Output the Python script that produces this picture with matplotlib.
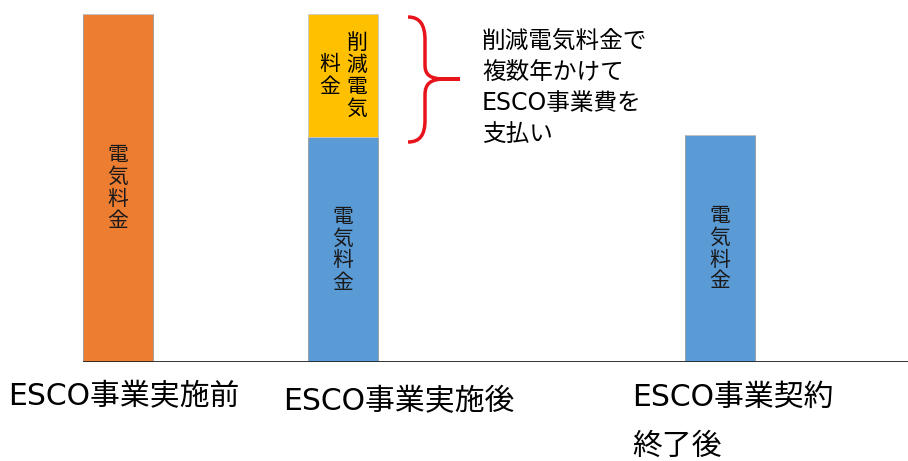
import numpy as np
import matplotlib
matplotlib.use("Agg")
import matplotlib.pyplot as plt
from matplotlib.path import Path
from matplotlib.patches import PathPatch

plt.rcParams['font.family'] = ['Noto Sans CJK JP', 'DejaVu Sans']
MIXED = ['DejaVu Sans', 'Noto Sans CJK JP']

# data (heights, in pixel-ish units)
categories = ['ESCO事業実施前', 'ESCO事業実施後', 'ESCO事業契約\n終了後']
elec_fee = [348, 225, 227]
reduced_fee = [0, 123, 0]
bar_labels = ['電気料金', '電気料金', '電気料金']
reduced_label = ['削減電気', '料金']
note = ['削減電気料金で', '複数年かけて', 'ESCO事業費を', '支払い']

# layout
W, H = 908, 461
bar_x = [35, 260, 637]
bar_w = 70
label_x = [8, 283, 632]
label_y = [397, 402, 397]
bar_colors = ['#ED7D31', '#5B9BD5', '#5B9BD5']
yellow = '#FFC000'

fig = plt.figure(figsize=(W / 100, H / 100), dpi=100)
ax = fig.add_axes([83 / W, (H - 362) / H, (W - 83) / W, 362 / H])
ax.set_xlim(0, W - 83)
ax.set_ylim(0, 362)
ax.axis('off')

ax.bar(bar_x, elec_fee, width=bar_w, color=bar_colors, edgecolor='#9a9a9a', linewidth=0.6)
ax.bar(bar_x, reduced_fee, bottom=elec_fee, width=bar_w, color=yellow, edgecolor='#c8c8c8', linewidth=0.6)
ax.axhline(0, color='#222222', linewidth=2)

for x, h, lab in zip(bar_x, elec_fee, bar_labels):
    ax.text(x, h / 2, '\n'.join(lab), ha='center', va='center', fontsize=15, linespacing=1.0,
            color='#1a1a1a')

# vertical text inside the yellow segment: right column first
mid = elec_fee[1] + reduced_fee[1] / 2
ax.text(bar_x[1] + 14, mid, '\n'.join(reduced_label[0]), ha='center', va='center', fontsize=15, linespacing=1.0)
ax.text(bar_x[1] - 13, mid, '\n'.join(reduced_label[1]), ha='center', va='center', fontsize=15, linespacing=1.0)

# overlay in pixel coordinates for brace, note and category labels
ov = fig.add_axes([0, 0, 1, 1])
ov.set_xlim(0, W)
ov.set_ylim(H, 0)
ov.axis('off')

verts = [(408, 17), (420, 17), (425, 25), (425, 40),
         (425, 65),
         (425, 75), (430, 79), (445, 79),
         (460, 79),
         (445, 79),
         (430, 79), (425, 84), (425, 95),
         (425, 120),
         (425, 135), (420, 142), (408, 142)]
codes = [Path.MOVETO, Path.CURVE4, Path.CURVE4, Path.CURVE4,
         Path.LINETO,
         Path.CURVE4, Path.CURVE4, Path.CURVE4,
         Path.LINETO,
         Path.LINETO,
         Path.CURVE4, Path.CURVE4, Path.CURVE4,
         Path.LINETO,
         Path.CURVE4, Path.CURVE4, Path.CURVE4]
ov.add_patch(PathPatch(Path(verts, codes), facecolor='none', edgecolor='#E8141C', linewidth=2.5))

for i, line in enumerate(note):
    ov.text(482, 41 + i * 31, line, ha='left', va='center', fontsize=17, family=MIXED)

for x, y, lab in zip(label_x, label_y, categories):
    for j, line in enumerate(lab.split('\n')):
        ov.text(x, y + j * 49, line, ha='left', va='center', fontsize=21.5, family=MIXED)

fig.savefig('out.png', dpi=100)
